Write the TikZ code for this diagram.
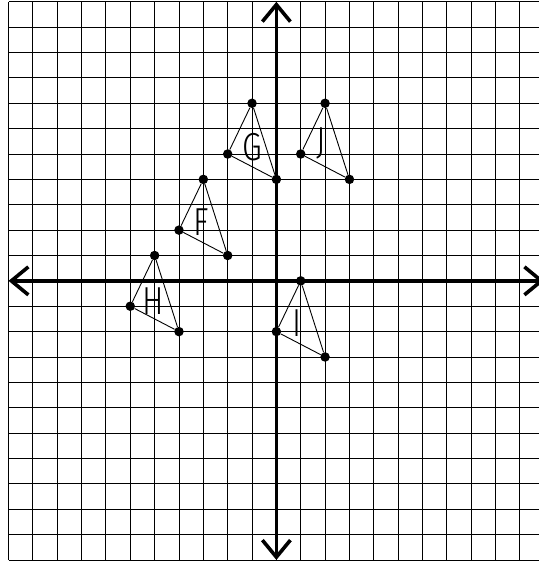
\documentclass[tikz,border=0pt]{standalone}
\usepackage{fontspec}
\newfontfamily\lblfont{Fira Sans Light}
\usetikzlibrary{arrows.meta}
\tikzset{
  gridline/.style={line width=0.9pt, black},
  axisline/.style={line width=3.6pt, black, {Straight Barb[length=17pt,width=28pt]}-{Straight Barb[length=17pt,width=28pt]}},
  dot/.style={circle, fill=black, inner sep=0pt, minimum size=9.5pt},
  edge/.style={line width=0.9pt, black},
  lbl/.style={inner sep=0pt, font=\lblfont\fontsize{39}{39}\selectfont, xscale=0.82}
}
\begin{document}
\begin{tikzpicture}[x=24.34pt, y=25.36pt]
\useasboundingbox (-11.35,-11.12) rectangle (10.75,11.07);
\fill[white] (-11.35,-11.12) rectangle (10.75,11.07);
% grid
\foreach \i in {-11,...,11} {
  \draw[gridline] (\i,-11) -- (\i,11);
  \draw[gridline] (-11,\i) -- (11,\i);
}
% axes
\coordinate (xl) at (-11,0);
\coordinate (xr) at (11,0);
\coordinate (yb) at (0,-11);
\coordinate (yt) at (0,11);
\draw[axisline] (xl) -- (xr);
\draw[axisline] (yb) -- (yt);
% triangle G
\node[dot] (g1) at (-1,7) {};
\node[dot] (g2) at (-2,5) {};
\node[dot] (g3) at (0,4) {};
\draw[edge] (g1) -- (g2) -- (g3) -- (g1);
% triangle J
\node[dot] (j1) at (2,7) {};
\node[dot] (j2) at (1,5) {};
\node[dot] (j3) at (3,4) {};
\draw[edge] (j1) -- (j2) -- (j3) -- (j1);
% triangle F
\node[dot] (f1) at (-3,4) {};
\node[dot] (f2) at (-4,2) {};
\node[dot] (f3) at (-2,1) {};
\draw[edge] (f1) -- (f2) -- (f3) -- (f1);
% triangle H
\node[dot] (h1) at (-5,1) {};
\node[dot] (h2) at (-6,-1) {};
\node[dot] (h3) at (-4,-2) {};
\draw[edge] (h1) -- (h2) -- (h3) -- (h1);
% triangle I
\node[dot] (i1) at (1,0) {};
\node[dot] (i2) at (0,-2) {};
\node[dot] (i3) at (2,-3) {};
\draw[edge] (i1) -- (i2) -- (i3) -- (i1);
% labels
\node[lbl] (lg) at (-1,5.28) {G};
\node[lbl] (lj) at (1.85,5.4) {J};
\node[lbl] (lf) at (-3.1,2.33) {F};
\node[lbl] (lh) at (-5.05,-0.8) {H};
\node[lbl] (li) at (0.86,-1.66) {I};
\end{tikzpicture}
\end{document}
